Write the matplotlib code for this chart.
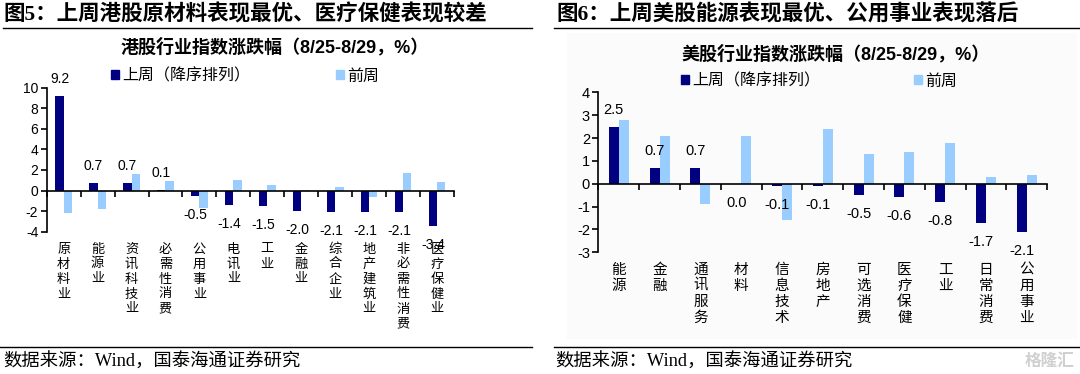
import matplotlib
matplotlib.use("Agg")
import matplotlib.pyplot as plt
import matplotlib.transforms as mtransforms
from matplotlib.patches import Patch, Rectangle
from matplotlib.lines import Line2D

plt.rcParams['font.family'] = ['Liberation Sans', 'Noto Sans CJK SC', 'DejaVu Sans']
plt.rcParams['axes.unicode_minus'] = False

DARK = '#000080'
LIGHT = '#99CCFF'
CJK = ['Noto Sans CJK SC', 'DejaVu Sans']
SERIF = ['Liberation Serif', 'Noto Sans CJK SC']

# ---- data: HK sectors (fig 5)
hk_sectors = ['原材料业', '能源业', '资讯科技业', '必需性消费', '公用事业', '电讯业',
              '工业', '金融业', '综合企业', '地产建筑业', '非必需性消费', '医疗保健业']
hk_last = [9.2, 0.7, 0.7, 0.1, -0.5, -1.4, -1.5, -2.0, -2.1, -2.1, -2.1, -3.4]
hk_prev = [-2.2, -1.8, 1.6, 0.9, -1.7, 1.0, 0.5, 0.1, 0.3, -0.6, 1.7, 0.8]
hk_yticks = [-4, -2, 0, 2, 4, 6, 8, 10]

# ---- data: US sectors (fig 6)
us_sectors = ['能源', '金融', '通讯服务', '材料', '信息技术', '房地产',
              '可选消费', '医疗保健', '工业', '日常消费', '公用事业']
us_last = [2.5, 0.7, 0.7, 0.0, -0.1, -0.1, -0.5, -0.6, -0.8, -1.7, -2.1]
us_prev = [2.8, 2.1, -0.9, 2.1, -1.6, 2.4, 1.3, 1.4, 1.8, 0.3, 0.4]
us_yticks = [-3, -2, -1, 0, 1, 2, 3, 4]

legend_labels = ['上周（降序排列）', '前周']

W, H = 1080, 374
fig = plt.figure(figsize=(W / 100, H / 100), dpi=100)


def fx(px):
    return px / W


def fy(py):
    return 1 - py / H


def bar_chart(rect, cats, last, prev, yticks, tick_fs, cat_fs, cat_ls, cat_gap):
    ax = fig.add_axes(rect)
    ax.patch.set_alpha(0)
    x = list(range(len(cats)))
    w = 0.245
    ax.bar([i - w / 2 for i in x], last, w, color=DARK, zorder=2)
    ax.bar([i + w / 2 for i in x], prev, w, color=LIGHT, zorder=2)
    ax.set_xlim(-0.5, len(cats) - 0.5)
    ax.set_ylim(yticks[0], yticks[-1])
    ax.set_yticks(yticks)
    ax.set_yticklabels([str(t) for t in yticks], fontsize=tick_fs)
    ax.set_xticks([i + 0.5 for i in range(-1, len(cats))])
    ax.set_xticklabels([])
    ax.spines['bottom'].set_position(('data', 0))
    ax.spines['top'].set_visible(False)
    ax.spines['right'].set_visible(False)
    for s in ('left', 'bottom'):
        ax.spines[s].set_linewidth(1.2)
    ax.tick_params(axis='y', direction='out', length=4, width=1.2, pad=2)
    ax.tick_params(axis='x', direction='out', length=4, width=1.2)
    for i, v in enumerate(last):
        off = 17 if v > 0 else -19
        ax.annotate(f'{v:.1f}', (i - w / 2, v), xytext=(0, off), textcoords='offset pixels',
                    ha='center', va='center', fontsize=tick_fs)
    trans = mtransforms.blended_transform_factory(ax.transData, ax.transAxes)
    for i, c in enumerate(cats):
        ax.text(i, cat_gap, '\n'.join(c), transform=trans, ha='center', va='top',
                fontsize=cat_fs, family=CJK, linespacing=cat_ls)
    return ax


def legend_at(x_px, y_px, colspace):
    handles = [Patch(color=DARK), Patch(color=LIGHT)]
    fig.legend(handles, legend_labels, loc='center left',
               bbox_to_anchor=(fx(x_px), fy(y_px)), ncol=2, frameon=False,
               prop={'family': CJK, 'size': 11.5}, handlelength=0.5, handleheight=0.5,
               handletextpad=0.2, columnspacing=colspace, borderpad=0, borderaxespad=0)


# faint panel behind the right chart
fig.add_artist(Rectangle((fx(567), fy(338)), fx(1076) - fx(567), fy(33) - fy(338),
                         transform=fig.transFigure, color='#fbfbfb', zorder=0))

# left chart
bar_chart([fx(46.7), fy(231.7), fx(454) - fx(46.7), fy(87.7) - fy(231.7)],
          hk_sectors, hk_last, hk_prev, hk_yticks, 10, 9.5, 1.2, -0.075)
fig.text(fx(275), fy(47), '港股行业指数涨跌幅（8/25-8/29，%）', ha='center', va='center',
         fontsize=13, fontweight='bold', family=['Liberation Sans', 'Noto Sans CJK SC'])
legend_at(111, 76, 5.4)

# right chart
bar_chart([fx(598.3), fy(252.3), fx(1047.3) - fx(598.3), fy(92.3) - fy(252.3)],
          us_sectors, us_last, us_prev, us_yticks, 10.5, 10.5, 1.2, -0.065)
fig.text(fx(836), fy(54), '美股行业指数涨跌幅（8/25-8/29，%）', ha='center', va='center',
         fontsize=13, fontweight='bold', family=['Liberation Sans', 'Noto Sans CJK SC'])
legend_at(681, 81, 5.9)

# headers, rules and sources
fig.text(fx(3), fy(15), '图5：上周港股原材料表现最优、医疗保健表现较差', ha='left', va='center',
         fontsize=15.5, fontweight='bold', family=SERIF)
fig.text(fx(556), fy(15), '图6：上周美股能源表现最优、公用事业表现落后', ha='left', va='center',
         fontsize=15.5, fontweight='bold', family=SERIF)
for x0, x1, yy in [(3, 532, 28), (554, 1080, 28), (0, 532, 347), (554, 1080, 347)]:
    fig.add_artist(Line2D([fx(x0), fx(x1)], [fy(yy), fy(yy)], color='black', lw=1.0,
                          transform=fig.transFigure))
fig.text(fx(3), fy(361.5), '数据来源：Wind，国泰海通证券研究', ha='left', va='center',
         fontsize=13.2, family=SERIF)
fig.text(fx(555), fy(361.5), '数据来源：Wind，国泰海通证券研究', ha='left', va='center',
         fontsize=13.2, family=SERIF)
fig.text(fx(1075), fy(361), '格隆汇', ha='right', va='center', fontsize=12,
         family=CJK, color='#d0d0d0', fontweight='bold')

fig.savefig('out.png', dpi=100)
